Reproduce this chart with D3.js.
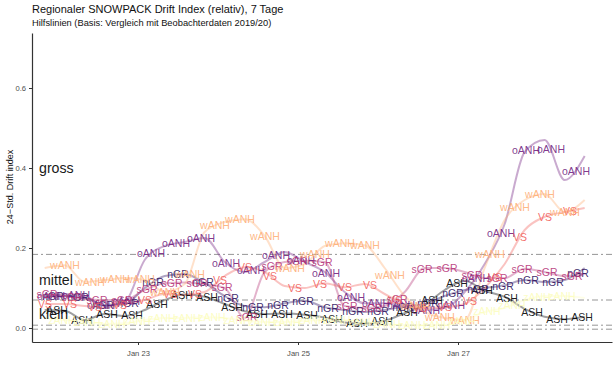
<!DOCTYPE html>
<html><head><meta charset="utf-8">
<script src="https://cdn.jsdelivr.net/npm/d3@7"></script>
<style>body{margin:0;background:#fff}text{font-family:"Liberation Sans",Arial,sans-serif}</style></head>
<body><svg id="c" width="616" height="370"></svg>
<script>
// ---------- data ----------
const times = ["2021-01-21T20:00Z","2021-01-22T02:00Z","2021-01-22T08:00Z","2021-01-22T14:00Z","2021-01-22T20:00Z",
"2021-01-23T02:00Z","2021-01-23T08:00Z","2021-01-23T14:00Z","2021-01-23T20:00Z","2021-01-24T02:00Z","2021-01-24T08:00Z",
"2021-01-24T14:00Z","2021-01-24T20:00Z","2021-01-25T02:00Z","2021-01-25T08:00Z","2021-01-25T14:00Z","2021-01-25T20:00Z",
"2021-01-26T02:00Z","2021-01-26T08:00Z","2021-01-26T14:00Z","2021-01-26T20:00Z","2021-01-27T02:00Z","2021-01-27T08:00Z",
"2021-01-27T14:00Z","2021-01-27T20:00Z","2021-01-28T02:00Z","2021-01-28T08:00Z","2021-01-28T14:00Z"];
const regions = ["ASH","nGR","oANH","sGR","VS","wANH","zANH"];
const ASH  = [0.045,0.043,0.020,0.035,0.030,0.045,0.070,0.084,0.078,0.060,0.042,0.035,0.036,0.033,0.026,0.014,0.011,0.018,0.037,0.058,0.095,0.118,0.093,0.078,0.048,0.028,0.022,0.028];
const nGR  = [0.078,0.080,0.075,0.058,0.060,0.100,0.130,0.135,0.112,0.080,0.055,0.052,0.062,0.068,0.052,0.045,0.040,0.045,0.054,0.060,0.080,0.095,0.100,0.107,0.120,0.115,0.120,0.150];
const oANH = [0.075,0.085,0.080,0.055,0.065,0.170,0.205,0.215,0.225,0.165,0.140,0.165,0.190,0.165,0.140,0.090,0.062,0.062,0.055,0.045,0.050,0.090,0.160,0.260,0.440,0.470,0.370,0.430];
const sGR  = [0.085,0.080,0.072,0.070,0.070,0.095,0.112,0.114,0.110,0.100,0.025,0.140,0.165,0.168,0.165,0.055,0.050,0.055,0.090,0.150,0.150,0.140,0.125,0.125,0.148,0.140,0.130,0.135];
const VS   = [0.060,0.060,0.055,0.050,0.060,0.070,0.085,0.083,0.090,0.130,0.152,0.140,0.105,0.100,0.112,0.102,0.110,0.085,0.060,0.050,0.052,0.060,0.100,0.160,0.245,0.278,0.290,0.300];
const wANH = [0.150,0.157,0.115,0.120,0.125,0.120,0.090,0.110,0.240,0.265,0.272,0.230,0.150,0.160,0.205,0.212,0.207,0.150,0.080,0.040,0.025,0.020,0.150,0.270,0.320,0.335,0.290,0.320];
const zANH = [0.025,0.020,0.015,0.010,0.012,0.020,0.025,0.025,0.027,0.025,0.018,0.015,0.015,0.018,0.020,0.020,0.015,0.010,0.007,0.007,0.008,0.020,0.040,0.050,0.070,0.080,0.080,0.075];
const seriesValues = [ASH,nGR,oANH,sGR,VS,wANH,zANH];
const thresholds = [0.184,0.07,0.007,-0.003];
const classNames = ["gross","mittel","klein"];
const classValues = [0.4,0.12,0.035];
const xTickDates = ["2021-01-23T00:00Z","2021-01-25T00:00Z","2021-01-27T00:00Z"];
const yTicks = [0,0.2,0.4,0.6];

// ---------- style ----------
const colors = ["#000004","#2D1160","#721F81","#B63679","#F1605D","#FEAF77","#FCFDBF"];
const labelStartHours = [3.7,2.5,1.9,0.7,0.1,6.1,5.2];
const labelStepHours = 7.5;

const svg = d3.select("#c");
const parse = s => new Date(s);
const x = d3.scaleUtc().domain([parse("2021-01-21T16:12Z"), parse("2021-01-28T22:12Z")]).range([32,612]);
const y = d3.scaleLinear().domain([-0.035,0.7375]).range([342,33]);

// title
svg.append("text").attr("x",32).attr("y",13).attr("font-size","11px").attr("fill","#111")
  .text("Regionaler SNOWPACK Drift Index (relativ), 7 Tage");
svg.append("text").attr("x",32).attr("y",26).attr("font-size","9.3px").attr("fill","#111")
  .text("Hilfslinien (Basis: Vergleich mit Beobachterdaten 2019/20)");

// threshold lines
svg.append("g").selectAll("line").data(thresholds).join("line")
  .attr("x1",32).attr("x2",612).attr("y1",d=>y(d)).attr("y2",d=>y(d))
  .attr("stroke","#8a8a8a").attr("stroke-width",0.9).attr("stroke-dasharray","6,3,2,3");

// lines
const line = d3.line().x((d,i)=>x(parse(times[i]))).y(d=>y(d)).curve(d3.curveMonotoneX);
const gl = svg.append("g");
const paths = seriesValues.map((vals,si)=>
  gl.append("path").datum(vals).attr("d",line).attr("fill","none")
    .attr("stroke",colors[si]).attr("stroke-opacity",0.38).attr("stroke-width",2).node());

function pointAtX(path, tx){
  const L = path.getTotalLength();
  let lo=0, hi=L;
  for(let i=0;i<40;i++){const m=(lo+hi)/2; if(path.getPointAtLength(m).x<tx) lo=m; else hi=m;}
  return path.getPointAtLength((lo+hi)/2);
}
// labels
const gt = svg.append("g");
const t0 = parse(times[0]).getTime(), t1 = parse(times[times.length-1]).getTime();
regions.forEach((r,si)=>{
  for(let h=labelStartHours[si]; t0+h*3600e3<=t1; h+=labelStepHours){
    const px = x(new Date(t0+h*3600e3));
    const p = pointAtX(paths[si], px);
    gt.append("text").attr("x",px).attr("y",p.y).attr("text-anchor","middle")
      .attr("dominant-baseline","central").attr("font-size","10.5px")
      .attr("fill",colors[si]).attr("fill-opacity",0.9).text(r);
  }
});

// class labels
svg.append("g").selectAll("text").data(classNames).join("text")
  .attr("x",39).attr("y",(d,i)=>y(classValues[i])).attr("dominant-baseline","central")
  .attr("font-size","14.2px").attr("fill","#1a1a1a").text(d=>d);

// axes
const ax = svg.append("g").attr("transform","translate(32,0)")
  .call(d3.axisLeft(y).tickValues(yTicks).tickFormat(d3.format(".1f")).tickSize(3).tickSizeOuter(0));
const bx = svg.append("g").attr("transform","translate(0,342)")
  .call(d3.axisBottom(x).tickValues(xTickDates.map(parse)).tickFormat(d3.utcFormat("%b %d")).tickSize(3).tickSizeOuter(0));
[ax,bx].forEach(g=>{
  g.select(".domain").attr("stroke","#333").attr("stroke-width",1.2);
  g.selectAll(".tick line").attr("stroke","#333");
  g.selectAll(".tick text").attr("fill","#4d4d4d").attr("font-size","7.6px")
   .attr("font-family","'Liberation Sans',Arial,sans-serif");
});
bx.selectAll(".tick text").attr("dy","1.1em");
svg.append("text").attr("transform","translate(10,187) rotate(-90)").attr("text-anchor","middle")
  .attr("dominant-baseline","central").attr("font-size","9px").attr("fill","#111").text("24−Std. Drift index");
</script></body></html>
